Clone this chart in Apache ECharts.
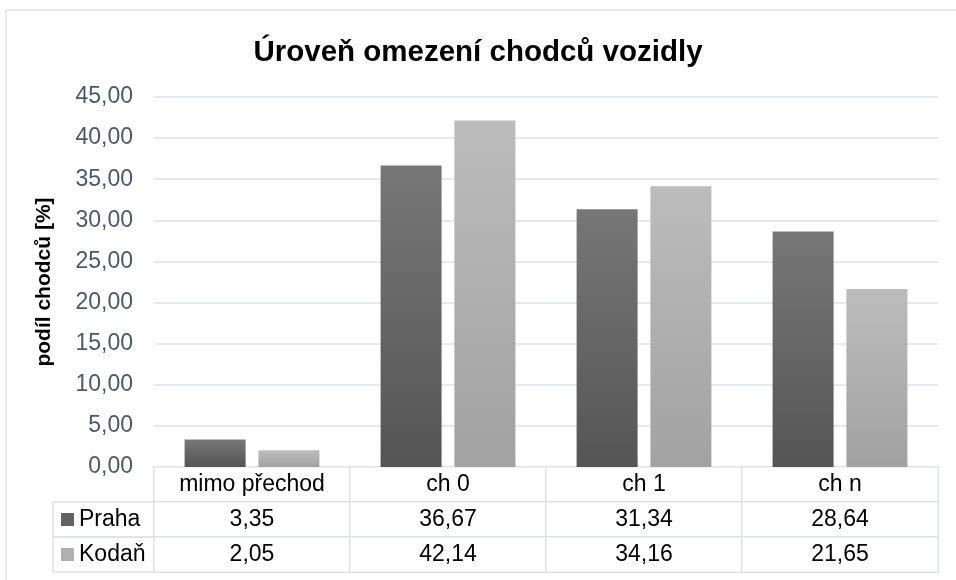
<!DOCTYPE html>
<html>
<head>
<meta charset="utf-8">
<script src="https://cdn.jsdelivr.net/npm/echarts@6/dist/echarts.min.js"></script>
<style>
  html, body { margin: 0; padding: 0; background: #fff; }
  #chart { width: 956px; height: 580px; }
</style>
</head>
<body>
<div id="chart"></div>
<script>
var categories = ['mimo přechod', 'ch 0', 'ch 1', 'ch n']
var seriesNames = ['Praha', 'Kodaň']
var praha = [3.35, 36.67, 31.34, 28.64]
var kodan = [2.05, 42.14, 34.16, 21.65]
var yTicks = { min: 0, max: 45, interval: 5 }

var font = '"Liberation Sans", Arial, sans-serif'
var lineColor = '#dde3ea'
var legendColors = ['#626262', '#b0b0b0']

function fmt(v) {
  return v.toFixed(2).replace('.', ',')
}

// table cells: row 0 = header, row 1 = Praha, row 2 = Kodaň
var tableData = []
categories.forEach(function(c, i) {
  tableData.push([i, 0, 0])
  tableData.push([i, 1, praha[i]])
  tableData.push([i, 2, kodan[i]])
})

var chart = echarts.init(document.getElementById('chart'))

chart.setOption({
  animation: false,
  textStyle: { fontFamily: font },
  title: {
    text: 'Úroveň omezení chodců vozidly',
    left: 'center',
    top: 33,
    textStyle: { fontSize: 29.5, fontWeight: 'bold', color: '#000', fontFamily: font }
  },
  graphic: [{
    type: 'rect',
    shape: { x: 6, y: 10, width: 960, height: 600 },
    style: { fill: 'none', stroke: lineColor, lineWidth: 1.5 },
    silent: true
  }],
  grid: [
    { left: 154, right: 18, top: 97, bottom: 113 },
    { left: 154, right: 18, top: 467, bottom: 8 }
  ],
  xAxis: [
    {
      type: 'category',
      gridIndex: 0,
      data: categories,
      axisLine: { show: false },
      axisTick: { show: false },
      axisLabel: { show: false }
    },
    {
      type: 'category',
      gridIndex: 1,
      data: categories,
      axisLine: { show: false },
      axisTick: { show: false },
      axisLabel: { show: false }
    }
  ],
  yAxis: [
    {
      type: 'value',
      gridIndex: 0,
      min: yTicks.min,
      max: yTicks.max,
      interval: yTicks.interval,
      name: 'podíl chodců [%]',
      nameLocation: 'middle',
      nameGap: 99,
      nameTextStyle: { fontSize: 21, fontWeight: 'bold', color: '#000', fontFamily: font },
      axisLine: { show: false },
      axisTick: { show: false },
      axisLabel: {
        fontSize: 23,
        color: '#4b586c',
        margin: 21,
        formatter: function(v) { return fmt(v) }
      },
      splitLine: { lineStyle: { color: lineColor, width: 1.5 } }
    },
    {
      type: 'category',
      gridIndex: 1,
      inverse: true,
      data: [{ value: '', textStyle: { borderWidth: 0 } }].concat(seriesNames),
      axisLine: { show: false },
      axisTick: { show: false },
      axisLabel: {
        interval: 0,
        margin: 0,
        fontSize: 23,
        color: '#000',
        borderColor: lineColor,
        borderWidth: 1.5,
        padding: [0, 4, 0, 8],
        formatter: function(v) {
          var idx = seriesNames.indexOf(v)
          if (idx < 0) {
            return ''
          }
          return '{m' + idx + '|}{s|}{n|' + v + '}'
        },
        rich: {
          m0: { width: 13, height: 13, align: 'left', backgroundColor: legendColors[0] },
          m1: { width: 13, height: 13, align: 'left', backgroundColor: legendColors[1] },
          s: { width: 5, align: 'left' },
          n: { width: 71, align: 'left', fontSize: 23, lineHeight: 35, color: '#000' }
        }
      }
    }
  ],
  visualMap: {
    show: false,
    seriesIndex: 2,
    min: 0,
    max: 100,
    inRange: { color: ['#ffffff', '#ffffff'] }
  },
  series: [
    {
      name: seriesNames[0],
      type: 'bar',
      data: praha,
      barWidth: 61,
      barGap: '21%',
      itemStyle: {
        color: new echarts.graphic.LinearGradient(0, 0, 0, 1, [
          { offset: 0, color: '#777777' },
          { offset: 1, color: '#555555' }
        ])
      }
    },
    {
      name: seriesNames[1],
      type: 'bar',
      data: kodan,
      barWidth: 61,
      barGap: '21%',
      itemStyle: {
        color: new echarts.graphic.LinearGradient(0, 0, 0, 1, [
          { offset: 0, color: '#bcbcbc' },
          { offset: 1, color: '#a2a2a2' }
        ])
      }
    },
    {
      type: 'heatmap',
      xAxisIndex: 1,
      yAxisIndex: 1,
      data: tableData,
      itemStyle: { borderColor: lineColor, borderWidth: 1.5 },
      emphasis: { disabled: true },
      label: {
        show: true,
        fontSize: 23,
        color: '#000',
        fontFamily: font,
        formatter: function(p) {
          if (p.data[1] === 0) {
            return categories[p.data[0]]
          }
          return fmt(p.data[2])
        }
      }
    }
  ]
})
</script>
</body>
</html>
